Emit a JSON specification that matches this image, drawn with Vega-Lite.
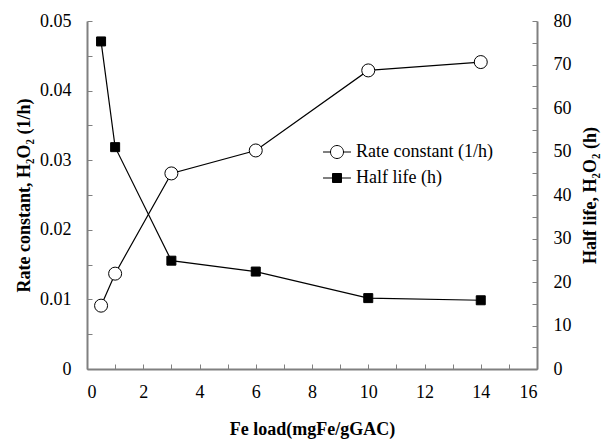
{
  "$schema": "https://vega.github.io/schema/vega-lite/v6.json",
  "width": 450,
  "height": 348,
  "autosize": {"type": "none"},
  "padding": {"left": 87, "top": 21, "right": 68, "bottom": 74},
  "background": "white",
  "config": {
    "view": {"stroke": null},
    "font": "Liberation Serif",
    "axis": {
      "domainColor": "#808080",
      "domainWidth": 2,
      "tickColor": "#808080",
      "tickWidth": 1,
      "tickSize": -5,
      "labelColor": "black",
      "labelFont": "Liberation Serif",
      "labelFontSize": 18,
      "titleFont": "Liberation Serif",
      "titleFontSize": 18,
      "titleFontWeight": "bold",
      "titleColor": "black",
      "grid": false
    },
    "legend": {"labelFont": "Liberation Serif", "labelFontSize": 18, "labelColor": "black"}
  },
  "data": {
    "values": [
      {"fe": 0.5, "series": "Rate constant (1/h)", "value": 0.0091},
      {"fe": 1, "series": "Rate constant (1/h)", "value": 0.0137},
      {"fe": 3, "series": "Rate constant (1/h)", "value": 0.0281},
      {"fe": 6, "series": "Rate constant (1/h)", "value": 0.0314},
      {"fe": 10, "series": "Rate constant (1/h)", "value": 0.0429},
      {"fe": 14, "series": "Rate constant (1/h)", "value": 0.0441},
      {"fe": 0.5, "series": "Half life (h)", "value": 75.3},
      {"fe": 1, "series": "Half life (h)", "value": 51.0},
      {"fe": 3, "series": "Half life (h)", "value": 24.9},
      {"fe": 6, "series": "Half life (h)", "value": 22.4},
      {"fe": 10, "series": "Half life (h)", "value": 16.3},
      {"fe": 14, "series": "Half life (h)", "value": 15.8}
    ]
  },
  "encoding": {
    "x": {
      "field": "fe",
      "type": "quantitative",
      "scale": {"domain": [0, 16], "nice": false},
      "axis": {
        "title": "Fe load(mgFe/gGAC)",
        "values": [0,1,2,3,4,5,6,7,8,9,10,11,12,13,14,15,16],
        "labelExpr": "datum.value % 2 == 0 ? datum.label : ''",
        "labelPadding": 19,
        "titlePadding": 19
      }
    }
  },
  "layer": [
    {
      "transform": [{"filter": "datum.series === 'Rate constant (1/h)'"}],
      "encoding": {
        "y": {
          "field": "value",
          "type": "quantitative",
          "scale": {"domain": [0, 0.05], "nice": false},
          "axis": {
            "orient": "left",
            "title": "Rate constant,  H₂O₂ (1/h)",
            "values": [0,0.005,0.01,0.015,0.02,0.025,0.03,0.035,0.04,0.045,0.05],
            "format": ".2~f",
            "labelExpr": "round(datum.value*1000) % 10 == 0 ? datum.label : ''",
            "labelPadding": 21,
            "titlePadding": 6
          }
        }
      },
      "layer": [
        {"mark": {"type": "line", "color": "black", "strokeWidth": 1.2}},
        {"mark": {"type": "point", "stroke": "black", "fill": "white", "filled": true, "strokeWidth": 1, "opacity": 1, "size": 169, "shape": "circle"}}
      ]
    },
    {
      "transform": [{"filter": "datum.series === 'Half life (h)'"}],
      "encoding": {
        "y": {
          "field": "value",
          "type": "quantitative",
          "scale": {"domain": [0, 80], "nice": false},
          "axis": {
            "orient": "right",
            "title": "Half life,  H₂O₂ (h)",
            "titleAngle": 270,
            "values": [0,5,10,15,20,25,30,35,40,45,50,55,60,65,70,75,80],
            "labelExpr": "datum.value % 10 == 0 ? datum.label : ''",
            "labelPadding": 21,
            "titlePadding": 28
          }
        }
      },
      "layer": [
        {"mark": {"type": "line", "color": "black", "strokeWidth": 1.2}},
        {"mark": {"type": "point", "stroke": "black", "fill": "black", "filled": true, "strokeWidth": 1, "opacity": 1, "size": 81, "shape": "square"}}
      ]
    },
    {
      "mark": {"type": "point", "opacity": 0, "strokeWidth": 1},
      "encoding": {
        "shape": {
          "field": "series", "type": "nominal",
          "scale": {"domain": ["Rate constant (1/h)", "Half life (h)"],
            "range": ["M-2.15,0H-1M1,0H2.15M-1,0A1,1 0 1,0 1,0A1,1 0 1,0 -1,0", "M-2.15,0H2.15M-0.69,-0.69H0.69V0.69H-0.69Z"]},
          "legend": {
            "title": null,
            "orient": "none",
            "legendX": 241,
            "legendY": 122,
            "rowPadding": 8,
            "labelOffset": 10,
            "symbolSize": 169,
            "symbolOpacity": 1,
            "symbolStrokeWidth": 1
          }
        },
        "fill": {
          "field": "series", "type": "nominal",
          "scale": {"domain": ["Rate constant (1/h)", "Half life (h)"], "range": ["white", "black"]}
        },
        "stroke": {
          "field": "series", "type": "nominal",
          "scale": {"domain": ["Rate constant (1/h)", "Half life (h)"], "range": ["black", "black"]}
        }
      }
    }
  ],
  "resolve": {"scale": {"y": "independent"}}
}
